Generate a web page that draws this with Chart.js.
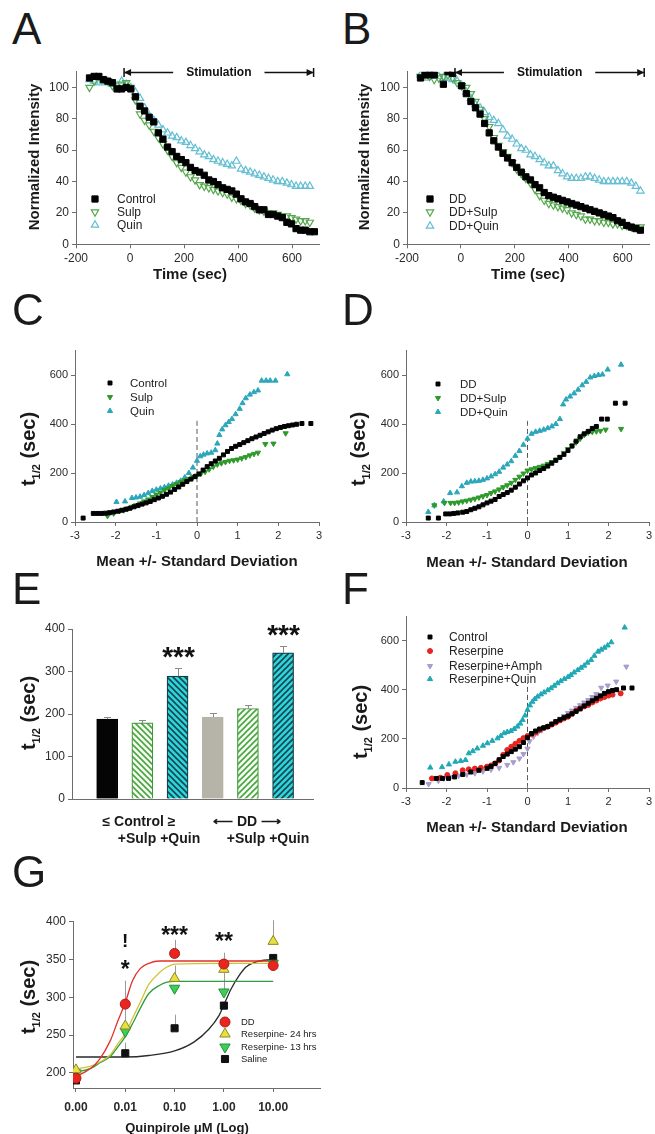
<!DOCTYPE html>
<html>
<head>
<meta charset="utf-8">
<script src="https://cdn.jsdelivr.net/npm/chart.js@4.4.0/dist/chart.umd.min.js"></script>
<style>
  body { margin: 0; background: #fff; font-family: "Liberation Sans", Arial, sans-serif; color: #1a1a1a; }
  #fig { position: relative; width: 655px; height: 1134px; overflow: hidden; }
  .letter { position: absolute; font-size: 44px; line-height: 42px; }
  .xt, .yt { position: absolute; font-weight: bold; font-size: 14px; line-height: 1; white-space: nowrap; }
  .xt { transform: translate(-50%, -50%); }
  .yt { transform: translate(-50%, -50%) rotate(-90deg); }
  .th { font-size: 20px; }
  .th sub { font-size: 11px; }
</style>
</head>
<body>
<div id="fig"></div>
<script>
// ---- A / B : normalized intensity time course ----
const timeSec = [-150,-133,-116,-99,-82,-65,-48,-31,-14,3,20,37,54,71,88,105,122,139,156,173,190,207,224,241,258,275,292,309,326,343,360,377,394,411,428,445,462,479,496,513,530,547,564,581,598,615,632,649,666,683];
const aControl = [106,107,107,105,104,103,99,99,100, 99,94,88,85,81,78, 71,67,62,59,56,54, 52,49,47,46,44,41, 40,38,36,35,34,32, 29,27,26,24,22,22, 19,19,18,17,14,13, 10,9,9,8,8];
const aSulp = [100,104,107,105,104,101,100,102,103, 100,92,83,79,76,72, 68,64,60,56,52,49, 46,43,41,38,37,36, 35,34,33,32,30,29, 28,26,25,23,22,21, 20,20,19,18,18,17, 16,15,15,14,null];
const aQuin = [105,104,103,104,103,102,101,104,102, 100,97,93,87,82,79, 76,73,71,69,68,66, 65,63,61,59,57,56, 54,53,52,51,50,53, 48,47,46,45,44,43, 42,41,40,40,39,38, 37,37,37,37,null];
const bDD = [106,108,108,108,null,102,110,109,null, 101,96,91,87,83,77, 71,66,62,58,55,52, 49,46,43,41,38,36, 33,31,30,29,28,27, 26,25,24,23,22,21, 20,19,18,17,15,14, 12,11,10,9,null];
const bDDSulp = [107,108,107,105,106,107,108,106,103, 101,100,96,91,86,80, 75,68,63,59,56,52, 48,45,42,39,35,31, 28,26,25,24,23,22, 20,19,18,16,16,15, 15,14,14,13,13,12, 12,11,11,11,null];
const bDDQuin = [108,106,108,107,107,106,106,105,104, 101,97,93,89,87,84, 81,79,77,73,69,67, 64,61,60,57,56,54, 52,50,50,47,45,43, 42,42,42,43,43,42, 41,40,40,40,40,40, 40,39,37,34,null];
const timeTicks = [-200, 0, 200, 400, 600];
const intensityTicks = [0, 20, 40, 60, 80, 100];
const stimStart = -22, stimEnd = 680;

// ---- C ----
const cCtrlZ = [-2.8,-2.55,-2.45,-2.35,-2.25,-2.15,-2.05,-1.95,-1.85,-1.75,-1.65,-1.55,-1.45,-1.35,-1.25,-1.15,-1.05,-0.95,-0.85,-0.75,-0.65,-0.55,-0.45,-0.35,-0.25,-0.15,-0.05,0.05,0.15,0.25,0.35,0.45,0.55,0.65,0.75,0.85,0.95,1.05,1.15,1.25,1.35,1.45,1.55,1.65,1.75,1.85,1.95,2.05,2.15,2.25,2.35,2.45,2.58,2.8];
const cCtrlT = [16,35,35,35,36,38,41,44,48,52,56,62,67,73,78,84,91,98,105,113,122,133,143,154,165,175,185,196,212,226,238,249,260,274,288,300,309,316,324,332,340,347,354,361,368,375,381,386,390,393,396,399,402,402];
const cSulpZ = [-2.2,-2.05,-1.9,-1.8,-1.7,-1.6,-1.5,-1.4,-1.3,-1.2,-1.1,-1.0,-0.9,-0.8,-0.7,-0.6,-0.5,-0.4,-0.3,-0.2,-0.1,0.0,0.1,0.2,0.3,0.4,0.5,0.6,0.7,0.8,0.9,1.0,1.1,1.2,1.3,1.4,1.5,1.68,1.88,2.18];
const cSulpT = [25,35,45,48,55,62,68,76,84,92,102,112,120,130,137,147,155,163,170,176,183,190,198,205,215,226,235,240,245,250,252,255,260,265,272,278,283,318,320,362];
const cQuinZ = [-2.2,-1.98,-1.77,-1.6,-1.5,-1.4,-1.3,-1.2,-1.1,-1.0,-0.9,-0.8,-0.7,-0.6,-0.5,-0.4,-0.3,-0.2,-0.1,0.0,0.08,0.16,0.25,0.35,0.45,0.5,0.55,0.62,0.7,0.78,0.86,0.95,1.05,1.12,1.2,1.3,1.4,1.5,1.59,1.7,1.8,1.93,2.22];
const cQuinT = [32,82,84,98,100,103,110,118,127,132,137,142,148,153,160,168,182,200,222,250,268,275,280,283,293,320,355,378,395,408,420,440,462,485,505,520,530,537,577,577,577,577,603];

// ---- D ----
const dDDZ = [-2.45,-2.2,-2.02,-1.92,-1.82,-1.72,-1.6,-1.5,-1.4,-1.3,-1.2,-1.1,-1.0,-0.9,-0.8,-0.7,-0.6,-0.5,-0.4,-0.3,-0.2,-0.1,0.0,0.1,0.2,0.3,0.4,0.5,0.6,0.7,0.8,0.9,1.0,1.1,1.2,1.3,1.4,1.5,1.6,1.7,1.83,1.97,2.17,2.41];
const dDDT = [16,16,33,33,35,37,40,43,50,56,62,70,78,85,92,104,112,120,130,142,155,168,180,192,200,210,218,228,240,252,264,276,292,310,330,348,360,370,382,390,420,420,485,485];
const dSulpZ = [-2.3,-2.05,-1.9,-1.8,-1.7,-1.6,-1.5,-1.4,-1.3,-1.2,-1.1,-1.0,-0.9,-0.8,-0.7,-0.6,-0.5,-0.4,-0.3,-0.2,-0.1,0.0,0.1,0.2,0.3,0.4,0.5,0.6,0.7,0.8,0.9,1.0,1.1,1.2,1.3,1.4,1.5,1.6,1.7,1.8,1.93,2.31];
const dSulpT = [68,78,78,78,80,84,87,91,95,100,105,110,118,125,133,142,150,160,172,185,198,210,215,220,225,230,237,245,254,265,282,298,312,325,340,355,365,368,370,372,377,380];
const dQuinZ = [-2.45,-2.3,-2.07,-1.91,-1.74,-1.62,-1.5,-1.4,-1.3,-1.2,-1.1,-1.0,-0.9,-0.8,-0.7,-0.6,-0.5,-0.4,-0.3,-0.2,-0.1,0.0,0.1,0.2,0.3,0.4,0.5,0.6,0.7,0.8,0.88,0.95,1.05,1.15,1.25,1.35,1.45,1.55,1.65,1.75,1.85,1.98,2.31];
const dQuinT = [41,68,84,118,121,146,160,165,166,168,172,178,186,195,205,222,235,248,270,290,315,340,360,368,372,377,383,390,400,420,480,500,512,525,540,558,572,590,596,600,602,622,642];

// ---- F ----
const fCtrlZ = [-2.6,-2.25,-2.1,-1.95,-1.8,-1.6,-1.4,-1.2,-1.0,-0.9,-0.8,-0.7,-0.6,-0.5,-0.4,-0.3,-0.2,-0.1,0.0,0.1,0.2,0.3,0.4,0.5,0.6,0.7,0.8,0.9,1.0,1.1,1.2,1.3,1.4,1.5,1.6,1.7,1.8,1.9,2.0,2.1,2.2,2.37,2.58];
const fCtrlT = [22,39,39,39,45,55,65,72,80,88,100,115,128,138,148,158,168,185,205,222,232,240,245,250,260,270,278,286,293,302,312,322,334,345,355,365,375,385,392,397,400,407,407];
const fResZ = [-2.36,-2.15,-1.98,-1.78,-1.6,-1.45,-1.3,-1.15,-1.0,-0.9,-0.8,-0.7,-0.6,-0.5,-0.4,-0.3,-0.2,-0.1,0.0,0.1,0.2,0.3,0.4,0.5,0.6,0.7,0.8,0.9,1.0,1.1,1.2,1.3,1.4,1.5,1.6,1.7,1.8,1.9,2.0,2.1,2.3];
const fResT = [39,42,53,60,72,76,79,82,87,92,100,112,135,155,168,180,192,203,212,218,226,236,244,250,258,266,275,283,290,302,314,324,332,338,348,356,364,370,376,380,385];
const fAmphZ = [-2.44,-2.2,-2.07,-1.9,-1.7,-1.5,-1.3,-1.1,-0.9,-0.7,-0.5,-0.35,-0.2,-0.1,0.0,0.05,0.15,0.25,0.35,0.5,0.6,0.7,0.8,0.9,1.0,1.1,1.2,1.3,1.4,1.5,1.6,1.7,1.82,1.98,2.19,2.44];
const fAmphT = [16,30,39,45,50,55,60,68,75,82,94,105,120,138,160,190,210,223,235,250,262,272,282,293,305,315,326,337,348,358,370,382,408,417,433,494];
const fQuinZ = [-2.4,-2.11,-1.94,-1.78,-1.65,-1.53,-1.45,-1.35,-1.24,-1.1,-0.99,-0.87,-0.74,-0.66,-0.58,-0.5,-0.41,-0.33,-0.25,-0.18,-0.12,-0.06,0.0,0.06,0.12,0.18,0.25,0.33,0.41,0.5,0.58,0.66,0.74,0.82,0.91,1.0,1.07,1.15,1.24,1.32,1.4,1.48,1.57,1.65,1.74,1.82,1.9,1.98,2.07,2.4];
const fQuinT = [83,85,96,107,110,114,141,150,161,172,182,192,202,212,223,228,232,240,250,262,277,295,318,336,351,362,372,381,389,398,406,416,426,435,444,452,460,470,480,489,498,510,521,538,555,563,571,580,593,653];

const zTicks = [-3, -2, -1, 0, 1, 2, 3];
const halfTicks = [0, 200, 400, 600];
const meanLineZ = [0, 0];
const meanLineC = [0, 415], meanLineD = [0, 420], meanLineF = [0, 428];

// ---- E ----
const eGroups = ['Control', '+Sulp', '+Quin', 'DD', 'DD+Sulp', 'DD+Quin'];
const eMean = [188, 179, 289, 193, 213, 344];
const eSem = [5, 6, 19, 10, 9, 16];
const eSig = ['', '', '***', '', '', '***'];
const eTicks = [0, 100, 200, 300, 400];

// ---- G ----
const gDose = [0.001, 0.01, 0.1, 1, 10];
const gDoseLabels = ['0.00', '0.01', '0.10', '1.00', '10.00'];
const gDD = [193, 291, 358, 344, 342];
const gRes24 = [204, 262, 325, 337, 374];
const gRes13 = [200, 255, 312, 307, 345];
const gSaline = [190, 226, 259, 289, 352];
const gDDUp = [null, 322, 376, 359, null];
const gRes24Up = [null, 285, 342, null, 402];
const gRes13Up = [null, null, null, 332, null];
const gSalineUp = [null, 240, 277, null, null];
const gFitDose = [0.001,0.002,0.003,0.005,0.007,0.01,0.014,0.02,0.03,0.05,0.07,0.1,1,10];
const gFitDD = [195,206,218,243,268,293,322,338,345,348,348,348,348,348];
const gFitRes24 = [205,209,214,224,238,252,272,293,317,333,340,344,345,345];
const gFitRes13 = [201,206,213,222,234,248,265,285,305,316,320,321,321,321];
const gFitSalDose = [0.001,0.01,0.03,0.1,0.25,0.5,0.8,1,1.4,2,2.8,4.5,10];
const gFitSaline = [221,221,223,229,241,258,276,290,311,328,340,347,350];
const gTicks = [200, 250, 300, 350, 400];
const gSigDose = [0.01, 0.01, 0.1, 1];
const gSigText = ['!', '*', '***', '**'];
const gSigLevel = [376, 345, 390, 381];

// ---------------------------------------------------------------
const FONT = '"Liberation Sans", Arial, sans-serif';
const AXIS = '#6d6d6d';
const TXT = '#2b2b2b';
const fig = document.getElementById('fig');

function canvasAt(left, top, w, h) {
  const c = document.createElement('canvas');
  c.width = w; c.height = h;
  c.style.cssText = `position:absolute;left:${left}px;top:${top}px;width:${w}px;height:${h}px`;
  fig.appendChild(c);
  return c;
}
function text(html, cls, x, y, css) {
  const d = document.createElement('div');
  d.className = cls; d.innerHTML = html;
  d.style.left = x + 'px'; d.style.top = y + 'px';
  if (css) d.style.cssText += css;
  fig.appendChild(d);
}

function mk(shape, r, fill, stroke, bw) { return {shape, r, fill, stroke, bw: bw || 1}; }
function drawMark(ctx, m, x, y) {
  ctx.save();
  ctx.beginPath();
  const r = m.r;
  if (m.shape === 'rect') { const s = r * Math.SQRT1_2; ctx.rect(x - s, y - s, 2 * s, 2 * s); }
  else if (m.shape === 'circle') ctx.arc(x, y, r, 0, Math.PI * 2);
  else {
    let a = m.shape === 'down' ? Math.PI : 0;
    for (let k = 0; k < 3; k++) {
      const px = x + Math.sin(a) * r, py = y - Math.cos(a) * r;
      if (k) ctx.lineTo(px, py); else ctx.moveTo(px, py);
      a += 2 * Math.PI / 3;
    }
    ctx.closePath();
  }
  if (m.fill) { ctx.fillStyle = m.fill; ctx.fill(); }
  if (m.stroke) { ctx.lineWidth = m.bw; ctx.strokeStyle = m.stroke; ctx.stroke(); }
  ctx.restore();
}
function pts(xs, ys, m) {
  const data = [];
  xs.forEach((x, i) => { if (ys[i] != null) data.push({x, y: ys[i]}); });
  return {
    data, showLine: false,
    pointStyle: m.shape === 'rect' ? 'rect' : (m.shape === 'circle' ? 'circle' : 'triangle'),
    pointRotation: m.shape === 'down' ? 180 : 0,
    pointRadius: m.r, pointHoverRadius: m.r,
    pointBackgroundColor: m.fill || 'rgba(0,0,0,0)',
    pointBorderColor: m.stroke || m.fill,
    pointBorderWidth: m.stroke ? m.bw : 0
  };
}
function curve(xs, ys, color, dash) {
  return {
    type: 'line', data: xs.map((x, i) => ({x, y: ys[i]})),
    borderColor: color, borderWidth: dash ? 1 : 1.3, borderDash: dash || [],
    pointRadius: 0, fill: false, cubicInterpolationMode: 'monotone'
  };
}
function axis(o) {
  return {
    type: o.type || 'linear', min: o.min, max: o.max, offset: false,
    border: {display: true, color: AXIS, width: 1},
    grid: {drawOnChartArea: false, drawTicks: !o.noTicks, display: true, tickLength: 4, color: AXIS},
    ticks: {
      display: !o.noTicks, color: TXT, padding: o.pad || 3, autoSkip: false, maxRotation: 0,
      font: {family: FONT, size: o.fs || 11, weight: o.bold ? 'bold' : 'normal'},
      callback: o.cb
    },
    afterBuildTicks: s => { if (o.ticks) s.ticks = o.ticks.map(v => ({value: v})); },
    afterFit: s => {
      if (s.isHorizontal()) s.height = o.size; else s.width = o.size;
      s.paddingLeft = s.paddingRight = s.paddingTop = s.paddingBottom = 0;
    }
  };
}
function baseOpts(t, r, xs, ys) {
  return {
    responsive: false, animation: false, devicePixelRatio: 1,
    layout: {padding: {left: 0, top: t, right: r, bottom: 0}},
    plugins: {legend: {display: false}, tooltip: {enabled: false}},
    scales: {x: xs, y: ys}
  };
}
function legendPlugin(items, size) {
  return {
    id: 'panelLegend',
    afterDraw(chart) {
      const ctx = chart.ctx;
      ctx.save();
      ctx.font = size + 'px ' + FONT;
      ctx.fillStyle = '#222';
      ctx.textBaseline = 'middle';
      items.forEach(it => { drawMark(ctx, it.m, it.mx, it.y); ctx.fillText(it.label, it.tx, it.y + 0.5); });
      ctx.restore();
    }
  };
}
function stimPlugin() {
  return {
    id: 'stim',
    afterDraw(chart) {
      const {ctx, scales: {x, y}} = chart;
      const xa = x.getPixelForValue(stimStart), xb = x.getPixelForValue(stimEnd);
      const yy = Math.round(y.getPixelForValue(109.5)) + 0.5;
      const xc = (xa + xb) / 2;
      ctx.save();
      ctx.font = 'bold 12px ' + FONT;
      const w = ctx.measureText('Stimulation').width;
      ctx.fillStyle = '#111'; ctx.strokeStyle = '#111'; ctx.lineWidth = 1.5;
      ctx.textAlign = 'center'; ctx.textBaseline = 'middle';
      ctx.fillText('Stimulation', xc, yy + 0.5);
      ctx.beginPath();
      ctx.moveTo(xa, yy); ctx.lineTo(xc - w / 2 - 13, yy);
      ctx.moveTo(xc + w / 2 + 13, yy); ctx.lineTo(xb, yy);
      ctx.moveTo(xa, yy - 4.5); ctx.lineTo(xa, yy + 4.5);
      ctx.moveTo(xb, yy - 4.5); ctx.lineTo(xb, yy + 4.5);
      ctx.stroke();
      ctx.beginPath();
      ctx.moveTo(xa, yy); ctx.lineTo(xa + 7, yy - 3.5); ctx.lineTo(xa + 7, yy + 3.5); ctx.closePath();
      ctx.moveTo(xb, yy); ctx.lineTo(xb - 7, yy - 3.5); ctx.lineTo(xb - 7, yy + 3.5); ctx.closePath();
      ctx.fill();
      ctx.restore();
    }
  };
}

// marker styles
const sqBig = mk('rect', 4.4, '#000', '#000');
const sulpHollow = mk('down', 4.2, null, '#55a84c', 1.2);
const quinHollow = mk('up', 4.2, null, '#64bfd3', 1.2);
const sqSmall = mk('rect', 2.8, '#000', '#000');
const sulpSmall = mk('down', 3, '#2d9a2a', '#2d9a2a');
const quinSmall = mk('up', 3, '#2ba6ba', '#2ba6ba');
const resDot = mk('circle', 2.5, '#e62420', '#e62420');
const amphTri = mk('down', 3, '#a99dcb', '#a99dcb');
const resQuinTri = mk('up', 3, '#1fa9b5', '#1fa9b5');

// ---------- A ----------
new Chart(canvasAt(0, 60, 330, 230), {
  type: 'scatter',
  data: {datasets: [pts(timeSec, aControl, sqBig), pts(timeSec, aSulp, sulpHollow), pts(timeSec, aQuin, quinHollow)]},
  options: baseOpts(11.7, 11,
    axis({min: -200, max: 700, ticks: timeTicks, size: 45.7, fs: 12}),
    axis({min: 0, max: 110, ticks: intensityTicks, size: 76, fs: 12})),
  plugins: [stimPlugin(), legendPlugin([
    {m: sqBig, mx: 95, tx: 117, y: 139, label: 'Control'},
    {m: sulpHollow, mx: 95, tx: 117, y: 152, label: 'Sulp'},
    {m: quinHollow, mx: 95, tx: 117, y: 165, label: 'Quin'}], 12)]
});

// ---------- B ----------
new Chart(canvasAt(330, 60, 325, 230), {
  type: 'scatter',
  data: {datasets: [pts(timeSec, bDD, sqBig), pts(timeSec, bDDSulp, sulpHollow), pts(timeSec, bDDQuin, quinHollow)]},
  options: baseOpts(11.7, 5,
    axis({min: -200, max: 700, ticks: timeTicks, size: 45.7, fs: 12}),
    axis({min: 0, max: 110, ticks: intensityTicks, size: 77, fs: 12})),
  plugins: [stimPlugin(), legendPlugin([
    {m: sqBig, mx: 100, tx: 119, y: 139, label: 'DD'},
    {m: sulpHollow, mx: 100, tx: 119, y: 152, label: 'DD+Sulp'},
    {m: quinHollow, mx: 100, tx: 119, y: 166, label: 'DD+Quin'}], 12)]
});

// ---------- C ----------
new Chart(canvasAt(0, 340, 330, 240), {
  type: 'scatter',
  data: {datasets: [pts(cCtrlZ, cCtrlT, sqSmall), pts(cSulpZ, cSulpT, sulpSmall), pts(cQuinZ, cQuinT, quinSmall),
    curve(meanLineZ, meanLineC, '#555', [5, 3])]},
  options: baseOpts(10.5, 11,
    axis({min: -3, max: 3, ticks: zTicks, size: 58, fs: 11}),
    axis({min: 0, max: 700, ticks: halfTicks, size: 75, fs: 11})),
  plugins: [legendPlugin([
    {m: sqSmall, mx: 110, tx: 130, y: 43, label: 'Control'},
    {m: sulpSmall, mx: 110, tx: 130, y: 57, label: 'Sulp'},
    {m: quinSmall, mx: 110, tx: 130, y: 71, label: 'Quin'}], 11.5)]
});

// ---------- D ----------
new Chart(canvasAt(330, 340, 325, 240), {
  type: 'scatter',
  data: {datasets: [pts(dDDZ, dDDT, sqSmall), pts(dSulpZ, dSulpT, sulpSmall), pts(dQuinZ, dQuinT, quinSmall),
    curve(meanLineZ, meanLineD, '#555', [5, 3])]},
  options: baseOpts(10.5, 6,
    axis({min: -3, max: 3, ticks: zTicks, size: 58, fs: 11}),
    axis({min: 0, max: 700, ticks: halfTicks, size: 76, fs: 11})),
  plugins: [legendPlugin([
    {m: sqSmall, mx: 108, tx: 130, y: 44, label: 'DD'},
    {m: sulpSmall, mx: 108, tx: 130, y: 58, label: 'DD+Sulp'},
    {m: quinSmall, mx: 108, tx: 130, y: 72, label: 'DD+Quin'}], 11.5)]
});

// ---------- E ----------
function hatch(bg, fg, dir) {
  const c = document.createElement('canvas');
  c.width = c.height = 6;
  const x = c.getContext('2d');
  x.fillStyle = bg; x.fillRect(0, 0, 6, 6);
  x.strokeStyle = fg; x.lineWidth = 1.6;
  x.beginPath();
  if (dir > 0) { x.moveTo(-1, 7); x.lineTo(7, -1); x.moveTo(-1, 1); x.lineTo(1, -1); x.moveTo(5, 7); x.lineTo(7, 5); }
  else { x.moveTo(-1, -1); x.lineTo(7, 7); x.moveTo(-1, 5); x.lineTo(1, 7); x.moveTo(5, -1); x.lineTo(7, 1); }
  x.stroke();
  return x.createPattern(c, 'repeat');
}
const ePlugin = {
  id: 'eExtras',
  afterDatasetsDraw(chart) {
    const {ctx, scales: {x, y}} = chart;
    ctx.save();
    eMean.forEach((m, i) => {
      const px = Math.round(x.getPixelForValue(i + 1)) + 0.5;
      const y0 = y.getPixelForValue(m), y1 = Math.round(y.getPixelForValue(m + eSem[i])) + 0.5;
      ctx.strokeStyle = '#8a8a8a'; ctx.lineWidth = 1;
      ctx.beginPath(); ctx.moveTo(px, y0); ctx.lineTo(px, y1);
      ctx.moveTo(px - 3.5, y1); ctx.lineTo(px + 3.5, y1); ctx.stroke();
      if (eSig[i]) {
        ctx.fillStyle = '#111'; ctx.font = 'bold 28px ' + FONT;
        ctx.textAlign = 'center'; ctx.textBaseline = 'alphabetic';
        ctx.fillText(eSig[i], px, y1 - 19 + 0.58 * 28);
      }
    });
    ctx.restore();
  }
};
new Chart(canvasAt(0, 600, 330, 250), {
  type: 'bar',
  data: {datasets: [{
    data: eMean.map((v, i) => ({x: i + 1, y: v})),
    barThickness: 21,
    backgroundColor: ['#050505', hatch('#f4fbef', '#4aa443', -1), hatch('#2fd4dc', '#16474f', -1),
      '#b6b4a8', hatch('#f4fbef', '#4aa443', 1), hatch('#2fd4dc', '#16474f', 1)],
    borderColor: ['#000', '#3f9a3a', '#173a40', '#b6b4a8', '#3f9a3a', '#173a40'],
    borderWidth: 1.2
  }]},
  options: baseOpts(29, 17,
    axis({min: 0, max: 6.85, size: 51, noTicks: true}),
    axis({min: 0, max: 400, ticks: eTicks, size: 72, fs: 12})),
  plugins: [ePlugin]
});

// ---------- F ----------
new Chart(canvasAt(330, 600, 325, 240), {
  type: 'scatter',
  data: {datasets: [pts(fCtrlZ, fCtrlT, sqSmall), pts(fResZ, fResT, resDot), pts(fAmphZ, fAmphT, amphTri), pts(fQuinZ, fQuinT, resQuinTri),
    curve(meanLineZ, meanLineF, '#555', [5, 3])]},
  options: baseOpts(16, 6,
    axis({min: -3, max: 3, ticks: zTicks, size: 52, fs: 11}),
    axis({min: 0, max: 700, ticks: halfTicks, size: 76, fs: 11})),
  plugins: [legendPlugin([
    {m: sqSmall, mx: 100, tx: 119, y: 37, label: 'Control'},
    {m: resDot, mx: 100, tx: 119, y: 51, label: 'Reserpine'},
    {m: amphTri, mx: 100, tx: 119, y: 66, label: 'Reserpine+Amph'},
    {m: resQuinTri, mx: 100, tx: 119, y: 79, label: 'Reserpine+Quin'}], 12)]
});

// ---------- G ----------
const gDDm = mk('circle', 5, '#e8261f', '#b01a14');
const gR24m = mk('up', 6, '#e6e040', '#8d8a22');
const gR13m = mk('down', 6, '#3ccf58', '#23913a');
const gSalm = mk('rect', 5, '#111', '#111');
const gPlugin = {
  id: 'gExtras',
  beforeDatasetsDraw(chart) {
    const {ctx, scales: {x, y}} = chart;
    ctx.save();
    ctx.strokeStyle = '#9a9a9a'; ctx.lineWidth = 1;
    [[gDD, gDDUp], [gRes24, gRes24Up], [gRes13, gRes13Up], [gSaline, gSalineUp]].forEach(([mean, up]) => {
      up.forEach((u, i) => {
        if (u == null) return;
        const px = Math.round(x.getPixelForValue(gDose[i])) + 0.5;
        ctx.beginPath(); ctx.moveTo(px, y.getPixelForValue(mean[i])); ctx.lineTo(px, y.getPixelForValue(u)); ctx.stroke();
      });
    });
    ctx.restore();
  },
  afterDraw(chart) {
    const {ctx, scales: {x, y}} = chart;
    ctx.save();
    ctx.fillStyle = '#111'; ctx.textAlign = 'center'; ctx.textBaseline = 'alphabetic';
    gSigText.forEach((s, i) => {
      const px = x.getPixelForValue(gSigDose[i]), py = y.getPixelForValue(gSigLevel[i]);
      const fs = s === '!' ? 19 : 23;
      ctx.font = 'bold ' + fs + 'px ' + FONT;
      ctx.fillText(s, px, py + (s === '!' ? 0.36 : 0.58) * fs);
    });
    ctx.restore();
  }
};
new Chart(canvasAt(0, 900, 330, 234), {
  type: 'scatter',
  data: {datasets: [
    pts(gDose, gDD, gDDm), pts(gDose, gRes24, gR24m), pts(gDose, gRes13, gR13m), pts(gDose, gSaline, gSalm),
    curve(gFitDose, gFitDD, '#e3302a'), curve(gFitDose, gFitRes24, '#d2c236'),
    curve(gFitDose, gFitRes13, '#2e9c3e'), curve(gFitSalDose, gFitSaline, '#2a2a2a')]},
  options: baseOpts(21.7, 10,
    axis({type: 'logarithmic', min: 0.00087, max: 89, ticks: gDose, size: 46, fs: 12, bold: true, pad: 8, cb: (v, i) => gDoseLabels[i]}),
    axis({min: 180, max: 400, ticks: gTicks, size: 73, fs: 12})),
  plugins: [gPlugin, legendPlugin([
    {m: gDDm, mx: 225, tx: 241, y: 122, label: 'DD'},
    {m: gR24m, mx: 225, tx: 241, y: 134, label: 'Reserpine- 24 hrs'},
    {m: gR13m, mx: 225, tx: 241, y: 147, label: 'Reserpine- 13 hrs'},
    {m: gSalm, mx: 225, tx: 241, y: 159, label: 'Saline'}], 9.5)]
});

// ---------- titles and panel letters ----------
const half = '<span class="th">t<sub>1/2</sub> (sec)</span>';
[['A', 12, 8], ['B', 342, 8], ['C', 12, 289], ['D', 342, 289], ['E', 12, 568], ['F', 342, 568], ['G', 12, 851]]
  .forEach(([l, x, y]) => text(l, 'letter', x, y));
text('Normalized Intensity', 'yt', 33, 157, 'font-size:15px');
text('Normalized Intensity', 'yt', 363, 157, 'font-size:15px');
text('Time (sec)', 'xt', 190, 273, 'font-size:15px');
text('Time (sec)', 'xt', 528, 273, 'font-size:15px');
text(half, 'yt', 30, 449);
text(half, 'yt', 360, 449);
text('Mean +/- Standard Deviation', 'xt', 197, 560, 'font-size:15px');
text('Mean +/- Standard Deviation', 'xt', 527, 561, 'font-size:15px');
text(half, 'yt', 30, 713);
text('\u2264 Control \u2265', 'xt', 139, 821);
text('\u27F5 DD \u27F6', 'xt', 247, 821);
text('+Sulp +Quin', 'xt', 159, 838);
text('+Sulp +Quin', 'xt', 268, 838);
text(half, 'yt', 362, 722);
text('Mean +/- Standard Deviation', 'xt', 527, 826, 'font-size:15px');
text(half, 'yt', 30, 997);
text('Quinpirole \u03BCM (Log)', 'xt', 187, 1127, 'font-size:13px');
</script>
</body>
</html>
